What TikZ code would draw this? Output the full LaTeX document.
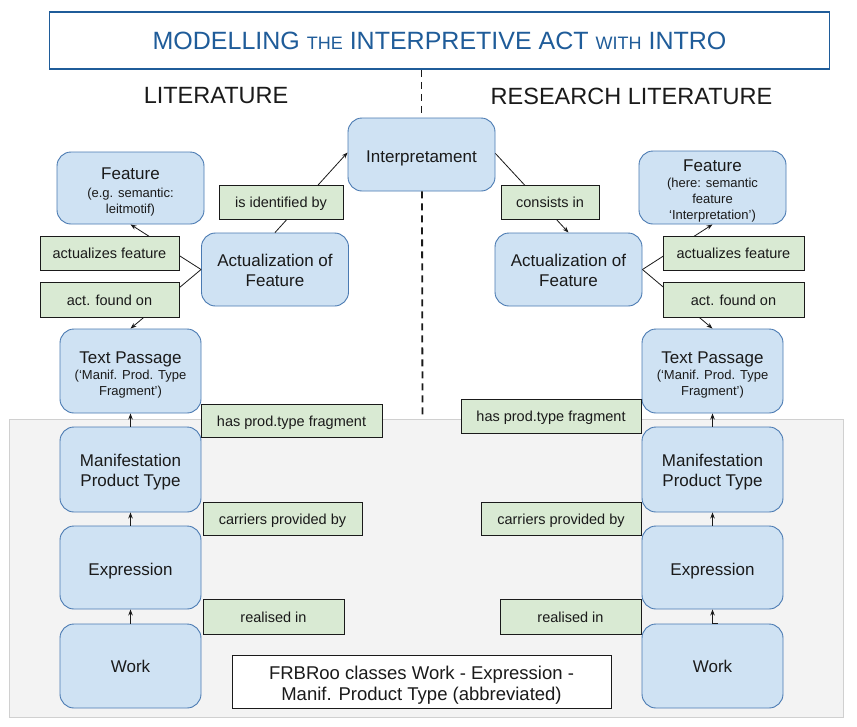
\documentclass[tikz,border=0pt]{standalone}
\usepackage{fontspec}
\setmainfont{Liberation Sans}
\usetikzlibrary{arrows.meta}
\definecolor{boxblue}{HTML}{CFE2F3}
\definecolor{boxborder}{HTML}{4A7AB2}
\definecolor{labgreen}{HTML}{D9EAD3}
\definecolor{titleblue}{HTML}{1F5C99}
\definecolor{graybg}{HTML}{F3F3F3}
\definecolor{grayline}{HTML}{D0D0D0}
\definecolor{ink}{HTML}{1A1A1A}
\newcommand{\fsz}[2]{\fontsize{#1}{#2}\selectfont}
\newcommand{\tstrut}[1]{\rule{0pt}{#1pt}}
\newcommand{\bstrut}[1]{\rule[-#1pt]{0pt}{#1pt}}
\begin{document}
\begin{tikzpicture}[x=1pt,y=-1pt,
  cls/.style={draw=boxborder, fill=boxblue, line width=0.9pt, rounded corners=14pt,
    align=center, inner sep=0pt, text=ink, font=\fsz{17}{21}},
  lab/.style={draw=ink, fill=labgreen, line width=0.9pt, align=center,
    inner sep=0pt, text=ink, font=\fsz{14.5}{17},
    execute at begin node={\tstrut{14}\bstrut{3}}},
  arr/.style={draw=ink, line width=0.8pt, -{Stealth[length=6pt,width=4.5pt]}},
  dashline/.style={draw=ink, line width=1.8pt, dash pattern=on 7pt off 5pt},
  heading/.style={inner sep=0pt, text=ink, font=\fsz{23.5}{28}},
  clsA/.style={cls, minimum width=147pt, minimum height=73pt},
  clsB/.style={cls, minimum width=141pt}]

\useasboundingbox (0,0) rectangle (857,726);
\fill[white] (0,0) rectangle (857,726);

% grey FRBRoo region
\draw[fill=graybg, draw=grayline, line width=0.8pt] (9,419) rectangle (843,717);

% title
\node[draw=titleblue, line width=1.5pt, fill=white, minimum width=780pt, minimum height=57pt,
  inner sep=0pt, text=titleblue] (title) at (439.5,40.5)
  {\fsz{25}{30}MODELLING {\fsz{18}{30}THE} INTERPRETIVE ACT {\fsz{18}{30}WITH} INTRO};

\node[heading] (litL) at (216,96) {LITERATURE};
\node[heading] (litR) at (631.5,96) {RESEARCH LITERATURE};

% central node
\node[clsA] (interp) at (421.5,154.5) {\tstrut{19}Interpretament\bstrut{4}};

% dashed separator
\coordinate (gtop) at (422.5,419);
\draw[dashline] (interp.north |- title.south) -- (interp.north);
\draw[dashline] ([xshift=0.5pt]interp.south) -- (gtop);

% left column
\node[clsA, minimum height=72pt] (featL) at (130.5,188)
  {\tstrut{20}Feature\\[-3pt]{\fsz{13}{15}(e.g. semantic:}\\[-5pt]{\fsz{13}{15}leitmotif)}\bstrut{4}};
\node[clsA] (actL) at (275,269.5) {\tstrut{18}Actualization of\\[-1pt]Feature\bstrut{3.6}};
\node[clsB, minimum height=84pt] (tpL) at (130.5,371)
  {\tstrut{20}Text Passage\\[-5pt]{\fsz{13}{15}(‘Manif. Prod. Type}\\[-5pt]{\fsz{13}{15}Fragment’)}\bstrut{4}};
\node[clsB, minimum height=85pt] (manL) at (130.5,469.5) {\tstrut{18}Manifestation\\[-1pt]Product Type\bstrut{3.6}};
\node[clsB, minimum height=83pt] (expL) at (130.5,567.5) {\tstrut{19}Expression\bstrut{4}};
\node[clsB, minimum height=84pt] (workL) at (130.5,666) {Work};

% right column
\node[clsA] (featR) at (712.5,187.5)
  {\tstrut{20}Feature\\[-5pt]{\fsz{13}{15}(here: semantic}\\[-5pt]{\fsz{13}{15}feature}\\[-5pt]{\fsz{13}{15}‘Interpretation’)}\bstrut{5}};
\node[clsA] (actR) at (568.5,269.5) {\tstrut{18}Actualization of\\[-1pt]Feature\bstrut{3.6}};
\node[clsB, minimum height=84pt] (tpR) at (712.5,371)
  {\tstrut{20}Text Passage\\[-5pt]{\fsz{13}{15}(‘Manif. Prod. Type}\\[-5pt]{\fsz{13}{15}Fragment’)}\bstrut{4}};
\node[clsB, minimum height=85pt] (manR) at (712.5,469.5) {\tstrut{18}Manifestation\\[-1pt]Product Type\bstrut{3.6}};
\node[clsB, minimum height=83pt] (expR) at (712.5,567.5) {\tstrut{19}Expression\bstrut{4}};
\node[clsB, minimum height=84pt] (workR) at (712.5,666) {Work};

% connectors
\draw[arr] (actL.north) -- ([yshift=2pt]interp.west);
\draw[arr] ([yshift=1pt]interp.east) -- (actR.north);
\draw[arr] (actL.west) -- (featL.south);
\draw[arr] (actL.west) -- (tpL.north);
\draw[arr] (actR.east) -- (featR.south);
\draw[arr] (actR.east) -- (tpR.north);
\draw[arr] (manL.north) -- (tpL.south);
\draw[arr] (expL.north) -- (manL.south);
\draw[arr] (workL.north) -- (expL.south);
\draw[arr] (manR.north) -- (tpR.south);
\draw[arr] (expR.north) -- (manR.south);
\draw[arr] ([xshift=5pt]workR.north) -| (expR.south);

% relation labels
\node[lab, minimum width=124pt, minimum height=34pt] (isid) at (281,202) {is identified by};
\node[lab, minimum width=139pt, minimum height=34pt] (actfL) at (109.5,253) {actualizes feature};
\node[lab, minimum width=139pt, minimum height=35pt] (foundL) at (109.5,299.5) {act. found on};
\node[lab, minimum width=181pt, minimum height=33pt] (hasL) at (291.5,420.5) {has prod.type fragment};
\node[lab, minimum width=159pt, minimum height=33pt] (carL) at (282.5,518.5) {carriers provided by};
\node[lab, minimum width=141pt, minimum height=35pt] (realL) at (273.5,616.5) {realised in};

\node[lab, minimum width=98pt, minimum height=34pt] (cons) at (550,202) {consists in};
\node[lab, minimum width=141pt, minimum height=34pt] (actfR) at (733.5,253) {actualizes feature};
\node[lab, minimum width=141pt, minimum height=35pt] (foundR) at (733.5,299.5) {act. found on};
\node[lab, minimum width=180pt, minimum height=34pt] (hasR) at (551,416) {has prod.type fragment};
\node[lab, minimum width=160pt, minimum height=33pt] (carR) at (561,518.5) {carriers provided by};
\node[lab, minimum width=141pt, minimum height=35pt] (realR) at (570.5,616.5) {realised in};

% legend
\node[draw=ink, fill=white, line width=0.9pt, minimum width=379pt, minimum height=53pt,
  inner sep=0pt, align=center, text=ink, font=\fsz{18.5}{21}] (legend) at (421.5,681.5)
  {\tstrut{20}FRBRoo classes Work - Expression -\\Manif. Product Type (abbreviated)\bstrut{4}};
\end{tikzpicture}
\end{document}
